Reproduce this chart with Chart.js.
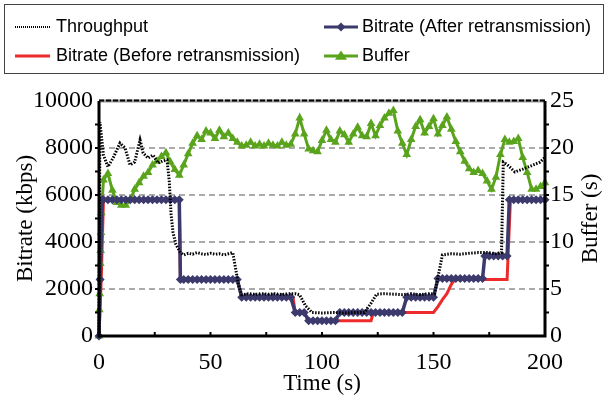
<!DOCTYPE html>
<html>
<head>
<meta charset="utf-8">
<script src="https://cdn.jsdelivr.net/npm/chart.js@4.4.1/dist/chart.umd.min.js"></script>
<style>
html, body { margin: 0; padding: 0; background: #fff; }
</style>
</head>
<body>
<canvas id="chart" width="608" height="401"></canvas>
<script>
// throughput (kbps)
const throughputTime = [0, 0.4, 2, 4, 6.3, 9.4, 11.7, 13.9, 16, 18.4, 19.8, 22, 24.2, 26.5, 28.5, 30.5,
    31.5, 32.3, 33.2, 34.5, 36.5, 38, 40, 42, 44, 46, 48, 50, 52, 54, 56, 58, 60, 61.2, 62.5, 64,
    67, 70, 73, 76, 79, 82, 85, 88, 90, 92.5, 95.5, 100, 105, 110, 115, 119, 122, 124.5, 128, 132,
    136, 140, 144, 148, 150.5, 152.2, 154, 158, 162, 166, 170, 174, 178, 180.5, 181.3, 183, 186.5,
    190, 194, 197.8, 200]
const throughput = [0, 9100, 7700, 7200, 7570, 8210, 8000, 7280, 7400, 8340, 7790, 7570, 7700, 7360, 7450, 7490,
    6600, 5200, 4400, 3900, 3550, 3450, 3520, 3480, 3550, 3500, 3470, 3520, 3480, 3500, 3450, 3500, 3550, 2900, 2200, 1750,
    1800, 1770, 1800, 1780, 1800, 1760, 1800, 1800, 1750, 1300, 1000, 980, 1000, 980, 1000, 1000, 1400, 1780, 1800, 1780,
    1760, 1800, 1760, 1800, 1800, 2600, 3450, 3500, 3480, 3520, 3550, 3550, 3500, 3550, 7400, 7300, 6980,
    7100, 7250, 7400, 7600]

// bitrate after retransmission (kbps)
const afterTime = [0, 0.5, 1.5,
    2, 4, 6, 8, 10, 12, 14, 16, 18, 20, 22, 24, 26, 28, 30, 32, 34, 36,
    36.5,
    38, 40, 42, 44, 46, 48, 50, 52, 54, 56, 58, 60, 62,
    64, 66, 68, 70, 72, 74, 76, 78, 80, 82, 84, 86,
    88, 90, 92,
    94, 96, 98, 100, 102, 104, 106,
    108, 110, 112, 114, 116, 118, 120, 122, 124, 126, 128, 130, 132, 134, 136,
    138, 140, 142, 144, 146, 148, 150,
    152, 154, 156, 158, 160, 162, 164, 166, 168, 170, 172,
    173, 175, 177, 179, 181, 183,
    184, 186, 188, 190, 192, 194, 196, 198, 200]
const bitrateAfter = [0, 2400, 5800,
    5800, 5800, 5800, 5800, 5800, 5800, 5800, 5800, 5800, 5800, 5800, 5800, 5800, 5800, 5800, 5800, 5800, 5800,
    2400,
    2400, 2400, 2400, 2400, 2400, 2400, 2400, 2400, 2400, 2400, 2400, 2400, 2400,
    1650, 1650, 1650, 1650, 1650, 1650, 1650, 1650, 1650, 1650, 1650, 1650,
    1000, 1000, 1000,
    650, 650, 650, 650, 650, 650, 650,
    1000, 1000, 1000, 1000, 1000, 1000, 1000, 1000, 1000, 1000, 1000, 1000, 1000, 1000, 1000,
    1650, 1650, 1650, 1650, 1650, 1650, 1650,
    2450, 2450, 2450, 2450, 2450, 2450, 2450, 2450, 2450, 2450, 2450,
    3400, 3400, 3400, 3400, 3400, 3400,
    5800, 5800, 5800, 5800, 5800, 5800, 5800, 5800, 5800]

// bitrate before retransmission (kbps)
const beforeTime = [0, 1, 2, 36, 36.5, 62, 64, 87, 88, 92, 94, 122, 123, 150, 152, 154, 156, 158, 159.5, 183, 184.5, 200]
const bitrateBefore = [0, 2400, 5800, 5800, 2400, 2400, 1650, 1650, 1000, 1000, 650, 650, 1000, 1000, 1250, 1550, 1800, 2200, 2400, 2400, 5800, 5800]

// buffer level (s)
const bufferTime = [0, 0.15, 0.3, 0.45, 0.6, 0.75, 0.9, 1.1,
    2, 4, 6, 8, 10, 12, 14, 16, 18, 20,
    22, 24, 26, 28, 30, 32, 34, 36, 38, 40,
    42, 44, 46, 48, 50, 52, 54, 56, 58, 60,
    62, 64, 66, 68, 70, 72, 74, 76, 78, 80,
    82, 84, 86, 88, 90, 92, 94, 96, 98, 100,
    102, 104, 106, 108, 110, 112, 114, 116, 118, 120,
    122, 124, 126, 128, 130, 132, 134, 136, 138, 140,
    142, 144, 146, 148, 150, 152, 154, 156, 158, 160,
    162, 164, 166, 168, 170, 172, 174, 176, 178, 180,
    182, 184, 186, 188, 190, 192, 194, 196, 198, 200]
const buffer = [0, 2.8, 4.5, 6.2, 7.7, 9.1, 11.0, 13.1,
    16.6, 17.3, 15.5, 14.2, 13.9, 13.9, 14.5, 15.6, 16.3, 17.0,
    17.4, 18.2, 18.6, 19.1, 19.5, 18.5, 17.7, 17.1, 18.2, 19.4,
    20.5, 21.3, 20.9, 21.8, 21.6, 21.0, 21.9, 21.2, 21.6, 21.0,
    20.6, 20.2, 20.3, 20.6, 20.2, 20.4, 20.2, 20.5, 20.3, 20.2,
    20.6, 20.3, 20.4, 21.5, 23.2, 21.5, 19.9, 19.7, 19.6, 20.8,
    21.9, 20.9, 20.6, 21.8, 21.4, 20.6, 21.5, 22.2, 21.3, 21.2,
    22.6, 21.3, 22.4, 23.2, 23.7, 24.0, 21.8, 20.5, 19.3, 20.9,
    22.3, 23.0, 21.6, 22.3, 23.1, 21.5, 22.4, 23.3, 22.0, 20.7,
    19.6, 18.6, 17.8, 17.4, 17.6, 17.3, 16.5, 15.6, 16.9, 19.3,
    20.9, 20.6, 20.7, 21.0, 19.0, 17.4, 15.6, 15.6, 15.9, 16.3]

const xTicks = [0, 50, 100, 150, 200]
const bitrateTicks = [0, 2000, 4000, 6000, 8000, 10000]
const bufferTicks = [0, 5, 10, 15, 20, 25]

const NAVY = '#3c3a6c'
const RED = '#ee2b2b'
const GREEN = '#5aa41d'
const SERIF = '"Liberation Serif", "DejaVu Serif", serif'
const SANS = '"Liberation Sans", Arial, sans-serif'

const toPoints = (xs, ys) => xs.map((x, i) => ({x: x, y: ys[i]}))

function diamond(ctx, x, y, r) {
    ctx.beginPath()
    ctx.moveTo(x, y - r)
    ctx.lineTo(x + r, y)
    ctx.lineTo(x, y + r)
    ctx.lineTo(x - r, y)
    ctx.closePath()
    ctx.fill()
}

function triangle(ctx, x, y, r) {
    ctx.beginPath()
    ctx.moveTo(x, y - r)
    ctx.lineTo(x + r * 1.1, y + r * 0.7)
    ctx.lineTo(x - r * 1.1, y + r * 0.7)
    ctx.closePath()
    ctx.fill()
}

const frame = {
    id: 'frame',
    afterDraw(chart) {
        const {ctx, chartArea: a, scales} = chart
        ctx.save()

        // top edge
        ctx.strokeStyle = '#999'
        ctx.lineWidth = 3
        ctx.beginPath(); ctx.moveTo(a.left, a.top); ctx.lineTo(a.right, a.top); ctx.stroke()
        ctx.strokeStyle = '#000'
        ctx.lineWidth = 2
        ctx.setLineDash([5, 2])
        ctx.beginPath(); ctx.moveTo(a.left, a.top - 0.5); ctx.lineTo(a.right, a.top - 0.5); ctx.stroke()
        ctx.setLineDash([])

        // axis lines
        ctx.lineWidth = 3
        ctx.beginPath()
        ctx.moveTo(a.left, a.top); ctx.lineTo(a.left, a.bottom)
        ctx.moveTo(a.left - 1.5, a.bottom); ctx.lineTo(a.right + 1.5, a.bottom)
        ctx.moveTo(a.right, a.top); ctx.lineTo(a.right, a.bottom)
        ctx.stroke()

        // small ticks
        ctx.lineWidth = 2
        ctx.beginPath()
        for (let t = 25; t < 200; t += 25) {
            const x = scales.x.getPixelForValue(t)
            ctx.moveTo(x, a.bottom); ctx.lineTo(x, a.bottom - 4)
        }
        for (let v = 1000; v < 10000; v += 1000) {
            const y = scales.y.getPixelForValue(v)
            ctx.moveTo(a.left - 4, y); ctx.lineTo(a.left, y)
            ctx.moveTo(a.right, y); ctx.lineTo(a.right + 4, y)
        }
        ctx.stroke()

        // right axis title, reading upward
        ctx.fillStyle = '#000'
        ctx.font = '23px ' + SERIF
        ctx.textAlign = 'center'
        ctx.textBaseline = 'middle'
        ctx.translate(591, (a.top + a.bottom) / 2)
        ctx.rotate(-Math.PI / 2)
        ctx.fillText('Buffer (s)', 0, 0)
        ctx.setTransform(1, 0, 0, 1, 0, 0)

        // legend box
        ctx.strokeStyle = '#444'
        ctx.lineWidth = 1
        ctx.strokeRect(4.5, 4.5, 599, 69)

        const rows = [27, 56]
        const cols = [{x1: 15, x2: 50, tx: 56}, {x1: 324, x2: 358, tx: 362}]
        ctx.font = '18px ' + SANS
        ctx.textAlign = 'left'
        ctx.fillStyle = '#000'

        // Throughput
        ctx.strokeStyle = '#000'
        ctx.lineWidth = 2
        ctx.setLineDash([1, 1])
        ctx.beginPath(); ctx.moveTo(cols[0].x1, rows[0]); ctx.lineTo(cols[0].x2, rows[0]); ctx.stroke()
        ctx.setLineDash([])
        ctx.fillText(chart.data.datasets[0].label, cols[0].tx, rows[0])

        // Before
        ctx.strokeStyle = RED
        ctx.lineWidth = 3
        ctx.beginPath(); ctx.moveTo(cols[0].x1, rows[1]); ctx.lineTo(cols[0].x2, rows[1]); ctx.stroke()
        ctx.fillStyle = '#000'
        ctx.fillText(chart.data.datasets[3].label, cols[0].tx, rows[1])

        // After
        ctx.strokeStyle = NAVY
        ctx.beginPath(); ctx.moveTo(cols[1].x1, rows[0]); ctx.lineTo(cols[1].x2, rows[0]); ctx.stroke()
        ctx.fillStyle = NAVY
        diamond(ctx, (cols[1].x1 + cols[1].x2) / 2, rows[0], 4.5)
        ctx.fillStyle = '#000'
        ctx.fillText(chart.data.datasets[1].label, cols[1].tx, rows[0])

        // Buffer
        ctx.strokeStyle = GREEN
        ctx.beginPath(); ctx.moveTo(cols[1].x1, rows[1]); ctx.lineTo(cols[1].x2, rows[1]); ctx.stroke()
        ctx.fillStyle = GREEN
        triangle(ctx, (cols[1].x1 + cols[1].x2) / 2, rows[1], 5.5)
        ctx.fillStyle = '#000'
        ctx.fillText(chart.data.datasets[2].label, cols[1].tx, rows[1])

        ctx.restore()
    }
}

new Chart(document.getElementById('chart'), {
    type: 'line',
    data: {
        datasets: [{
            label: 'Throughput',
            data: toPoints(throughputTime, throughput),
            yAxisID: 'y',
            borderColor: '#000',
            borderWidth: 3,
            borderDash: [1.5, 1.5],
            pointRadius: 0,
            tension: 0,
            clip: 6
        }, {
            label: 'Bitrate (After retransmission)',
            data: toPoints(afterTime, bitrateAfter),
            yAxisID: 'y',
            borderColor: NAVY,
            borderWidth: 3.5,
            pointStyle: 'rectRot',
            pointRadius: 4.5,
            pointBackgroundColor: NAVY,
            pointBorderWidth: 0,
            tension: 0,
            clip: 8
        }, {
            label: 'Buffer',
            data: toPoints(bufferTime, buffer),
            yAxisID: 'y1',
            borderColor: GREEN,
            borderWidth: 3,
            pointStyle: 'triangle',
            pointRadius: 5,
            pointBackgroundColor: GREEN,
            pointBorderWidth: 0,
            tension: 0,
            clip: 8
        }, {
            label: 'Bitrate (Before retransmission)',
            data: toPoints(beforeTime, bitrateBefore),
            yAxisID: 'y',
            borderColor: RED,
            borderWidth: 3,
            pointRadius: 0,
            tension: 0,
            clip: 6
        }]
    },
    options: {
        responsive: false,
        animation: false,
        devicePixelRatio: 1,
        layout: {
            padding: {top: 101, left: 0, right: 0, bottom: 0}
        },
        scales: {
            x: {
                type: 'linear',
                min: 0,
                max: 200,
                afterFit: s => { s.height = 65 },
                afterBuildTicks: s => { s.ticks = xTicks.map(v => ({value: v})) },
                ticks: {
                    color: '#000',
                    padding: 4,
                    font: {family: SERIF, size: 24},
                    callback: v => String(v)
                },
                grid: {display: false},
                border: {display: false},
                title: {
                    display: true,
                    text: 'Time (s)',
                    color: '#000',
                    padding: {top: 0, bottom: 3},
                    font: {family: SERIF, size: 23}
                }
            },
            y: {
                position: 'left',
                min: 0,
                max: 10000,
                afterFit: s => { s.width = 99 },
                afterBuildTicks: s => { s.ticks = bitrateTicks.map(v => ({value: v})) },
                ticks: {
                    color: '#000',
                    padding: 6,
                    font: {family: SERIF, size: 24},
                    callback: v => String(v)
                },
                grid: {
                    drawTicks: false,
                    lineWidth: 2,
                    color: c => (c.tick.value > 0 && c.tick.value < 10000) ? '#aaaaaa' : 'rgba(0,0,0,0)'
                },
                border: {display: false, dash: [6, 4]},
                title: {
                    display: true,
                    text: 'Bitrate (kbps)',
                    color: '#000',
                    padding: {top: 12, bottom: 0},
                    font: {family: SERIF, size: 23}
                }
            },
            y1: {
                position: 'right',
                min: 0,
                max: 25,
                afterFit: s => { s.width = 63 },
                afterBuildTicks: s => { s.ticks = bufferTicks.map(v => ({value: v})) },
                ticks: {
                    color: '#000',
                    padding: 5,
                    font: {family: SERIF, size: 24},
                    callback: v => String(v)
                },
                grid: {display: false, drawTicks: false},
                border: {display: false}
            }
        },
        plugins: {
            legend: {display: false},
            tooltip: {enabled: false}
        }
    },
    plugins: [frame]
});
</script>
</body>
</html>
